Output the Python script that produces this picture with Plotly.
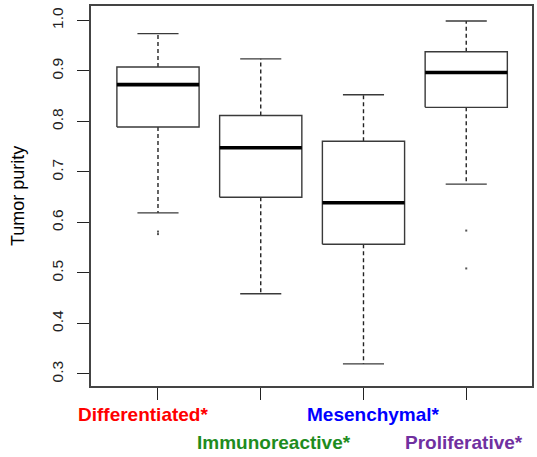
import plotly.graph_objects as go

# ---- data ----
categories = ["Differentiated*", "Immunoreactive*", "Mesenchymal*", "Proliferative*"]
label_colors = ["#FF0000", "#1E8C1E", "#0000FF", "#7030A0"]
lower_whisker = [0.619, 0.459, 0.320, 0.676]
q1 = [0.789, 0.650, 0.557, 0.828]
median = [0.873, 0.748, 0.639, 0.897]
q3 = [0.908, 0.812, 0.761, 0.938]
upper_whisker = [0.974, 0.924, 0.853, 0.999]
outlier_group = [1, 1, 4, 4]
outlier_values = [0.582, 0.577, 0.584, 0.509]
y_ticks = [0.3, 0.4, 0.5, 0.6, 0.7, 0.8, 0.9, 1.0]

BOX_HALF = 0.4
CAP_HALF = 0.2
BOX_COLOR = "#3a3a3a"

fig = go.Figure()

for i, cat in enumerate(categories):
    c = i + 1
    # whiskers (dashed)
    fig.add_trace(go.Scatter(
        x=[c, c, None, c, c],
        y=[q3[i], upper_whisker[i], None, q1[i], lower_whisker[i]],
        mode="lines", line=dict(color="#222222", width=1.4, dash="4px,3px"),
        hoverinfo="skip", showlegend=False))
    # caps
    fig.add_trace(go.Scatter(
        x=[c - CAP_HALF, c + CAP_HALF, None, c - CAP_HALF, c + CAP_HALF],
        y=[upper_whisker[i], upper_whisker[i], None, lower_whisker[i], lower_whisker[i]],
        mode="lines", line=dict(color=BOX_COLOR, width=1.4),
        hoverinfo="skip", showlegend=False))
    # box
    fig.add_trace(go.Scatter(
        x=[c - BOX_HALF, c + BOX_HALF, c + BOX_HALF, c - BOX_HALF, c - BOX_HALF],
        y=[q1[i], q1[i], q3[i], q3[i], q1[i]],
        mode="lines", fill="toself", fillcolor="white",
        line=dict(color=BOX_COLOR, width=1.4),
        name=cat, hoverinfo="skip", showlegend=False))
    # median
    fig.add_trace(go.Scatter(
        x=[c - BOX_HALF, c + BOX_HALF], y=[median[i], median[i]],
        mode="lines", line=dict(color="black", width=3.6),
        hoverinfo="skip", showlegend=False))

# outliers
fig.add_trace(go.Scatter(
    x=outlier_group, y=outlier_values, mode="markers",
    marker=dict(color="#555555", size=2, symbol="square"),
    hoverinfo="skip", showlegend=False))

# category labels (placed as in the reference, below the axis)
label_pos = [(0.1174, -0.0763), (0.4153, -0.1474), (0.641, -0.0763), (0.8465, -0.1474)]
for cat, col, (px, py) in zip(categories, label_colors, label_pos):
    fig.add_annotation(
        text=cat, x=px, y=py, xref="paper", yref="paper",
        xanchor="center", yanchor="middle", showarrow=False,
        font=dict(family="Liberation Sans, Arial, sans-serif", size=19, color=col, weight="bold"))

# y-axis title
fig.add_annotation(
    text="Tumor purity", x=-0.1655, y=0.5, xref="paper", yref="paper",
    textangle=-90, xanchor="center", yanchor="middle", showarrow=False,
    font=dict(family="Liberation Sans, Arial, sans-serif", size=18, color="black"))

fig.update_layout(
    width=537, height=457,
    margin=dict(l=91, r=3, t=6, b=71),
    paper_bgcolor="white", plot_bgcolor="white",
    font=dict(family="Liberation Sans, Arial, sans-serif", color="black"),
    xaxis=dict(
        range=[0.348, 4.64], tickmode="array", tickvals=[1, 2, 3, 4],
        ticktext=["", "", "", ""], ticks="outside", ticklen=12, tickwidth=1.4,
        tickcolor="#222222", showgrid=False, zeroline=False,
        showline=True, linecolor="#444444", linewidth=1.5, mirror=True),
    yaxis=dict(
        range=[0.2762, 1.0287], tickmode="array", tickvals=y_ticks,
        ticktext=[f"{v:.1f}" for v in y_ticks], tickangle=-90,
        ticks="outside", ticklen=12, tickwidth=1.4, tickcolor="#222222",
        tickfont=dict(size=15.5, color="#222222"), ticklabelstandoff=8,
        showgrid=False, zeroline=False,
        showline=True, linecolor="#444444", linewidth=1.5, mirror=True),
)

fig.write_html(
    "out.html",
    config={"displayModeBar": False},
    post_script="document.body.style.margin='0';document.body.style.overflow='hidden';",
)
